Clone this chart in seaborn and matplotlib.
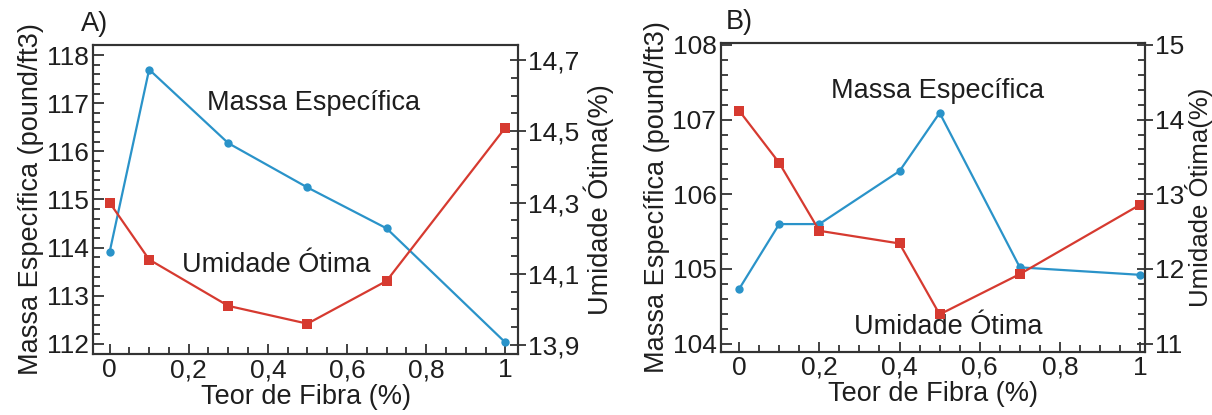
import numpy as np
import pandas as pd
import matplotlib
matplotlib.use("Agg")
import matplotlib.pyplot as plt
from matplotlib.ticker import MultipleLocator
import seaborn as sns

# ---- data ----
fibra_a = [0.0, 0.1, 0.3, 0.5, 0.7, 1.0]
massa_a = [113.9, 117.7, 116.17, 115.25, 114.4, 112.03]
umidade_a = [14.30, 14.14, 14.01, 13.96, 14.08, 14.51]

fibra_b = [0.0, 0.1, 0.2, 0.4, 0.5, 0.7, 1.0]
massa_b = [104.73, 105.6, 105.6, 106.31, 107.09, 105.02, 104.92]
umidade_b = [14.12, 13.42, 12.51, 12.34, 11.39, 11.93, 12.86]

x_ticks = [0, 0.2, 0.4, 0.6, 0.8, 1.0]
x_tick_labels = ["0", "0,2", "0,4", "0,6", "0,8", "1"]
left_ticks_a = [112, 113, 114, 115, 116, 117, 118]
right_ticks_a = [13.9, 14.1, 14.3, 14.5, 14.7]
right_labels_a = ["13,9", "14,1", "14,3", "14,5", "14,7"]
left_ticks_b = [104, 105, 106, 107, 108]
right_ticks_b = [11, 12, 13, 14, 15]

xlabel = "Teor de Fibra (%)"
ylabel_left = "Massa Específica (pound/ft3)"
ylabel_right = "Umidade Ótima(%)"
label_massa = "Massa Específica"
label_umidade = "Umidade Ótima"

BLUE = "#2a93c9"
RED = "#d63a30"
DARK = "#333333"
TXT = "#1e1e1e"

sns.set_theme(style="white")
plt.rcParams["font.family"] = ["Liberation Sans", "DejaVu Sans"]
plt.rcParams["axes.edgecolor"] = DARK
plt.rcParams["axes.linewidth"] = 1.5

fig = plt.figure(figsize=(12.12, 4.15), dpi=100)
ax_a = fig.add_axes([0.077, 0.147, 0.3507, 0.7446])
ax_b = fig.add_axes([0.5946, 0.1525, 0.3501, 0.7446])

TICK_FS = 19
LABEL_FS = 19.5


def style_axes(ax, ax2, left_ticks, right_ticks, right_labels, left_minor, right_minor,
               rpad, rfs):
    ax.set_xticks(x_ticks)
    ax.set_xticklabels(x_tick_labels)
    ax.xaxis.set_minor_locator(MultipleLocator(0.05))
    ax.set_yticks(left_ticks)
    ax.set_yticklabels([str(t) for t in left_ticks])
    ax.yaxis.set_minor_locator(MultipleLocator(left_minor))
    ax.tick_params(axis="both", which="both", direction="in", colors=DARK,
                   labelcolor=TXT, labelsize=TICK_FS, pad=3)
    ax.tick_params(axis="x", which="major", length=7, width=1.3, top=False, bottom=True)
    ax.tick_params(axis="x", which="minor", length=5, width=1.3, top=False, bottom=True)
    ax.tick_params(axis="y", which="major", length=8, width=1.3, left=True)
    ax.tick_params(axis="y", which="minor", length=5, width=1.3, left=True)
    ax.set_xlabel(xlabel, fontsize=LABEL_FS, color=TXT, labelpad=1)
    ax.set_ylabel(ylabel_left, fontsize=LABEL_FS, color=TXT, labelpad=2)

    ax2.set_yticks(right_ticks)
    ax2.set_yticklabels(right_labels)
    ax2.yaxis.set_minor_locator(MultipleLocator(right_minor))
    ax2.tick_params(axis="y", which="major", direction="inout", length=12, width=1.3,
                    colors=DARK, labelcolor=TXT, labelsize=TICK_FS, pad=1)
    ax2.tick_params(axis="y", which="minor", direction="in", length=5, width=1.3, colors=DARK)
    ax2.set_ylabel(ylabel_right, fontsize=rfs, color=TXT, labelpad=rpad)
    for sp in list(ax.spines.values()) + list(ax2.spines.values()):
        sp.set_color(DARK)
        sp.set_linewidth(1.5)


# ---- Panel A ----
df_a = pd.DataFrame({"fibra": fibra_a, "massa": massa_a, "umidade": umidade_a})
sns.lineplot(data=df_a, x="fibra", y="massa", ax=ax_a, color=BLUE, marker="o",
             markersize=6, markeredgewidth=0, linewidth=1.6)
ax2_a = ax_a.twinx()
sns.lineplot(data=df_a, x="fibra", y="umidade", ax=ax2_a, color=RED, marker="s",
             markersize=6.5, markeredgewidth=0, linewidth=1.6)
ax_a.set_xlim(-0.041, 1.033)
ax_a.set_ylim(111.79, 118.21)
ax2_a.set_ylim(13.875, 14.742)
style_axes(ax_a, ax2_a, left_ticks_a, right_ticks_a, right_labels_a, 0.2, 0.05, 3, LABEL_FS)
ax_a.text(0.516, 117.0, label_massa, fontsize=LABEL_FS, color=TXT,
          ha="center", va="center")
ax_a.text(0.42, 113.64, label_umidade, fontsize=LABEL_FS, color=TXT,
          ha="center", va="center")
ax_a.text(-0.03, 1.025, "A)", transform=ax_a.transAxes, fontsize=LABEL_FS,
          color=TXT, ha="left", va="bottom")

# ---- Panel B ----
df_b = pd.DataFrame({"fibra": fibra_b, "massa": massa_b, "umidade": umidade_b})
sns.lineplot(data=df_b, x="fibra", y="massa", ax=ax_b, color=BLUE, marker="o",
             markersize=6, markeredgewidth=0, linewidth=1.6)
ax2_b = ax_b.twinx()
sns.lineplot(data=df_b, x="fibra", y="umidade", ax=ax2_b, color=RED, marker="s",
             markersize=6.5, markeredgewidth=0, linewidth=1.6)
ax_b.set_xlim(-0.046, 1.012)
ax_b.set_ylim(103.89, 108.03)
ax2_b.set_ylim(10.89, 15.03)
style_axes(ax_b, ax2_b, left_ticks_b, right_ticks_b, [str(t) for t in right_ticks_b],
           0.2, 0.2, 0.5, 18.5)
ax_b.text(0.494, 107.38, label_massa, fontsize=LABEL_FS, color=TXT,
          ha="center", va="center")
ax_b.text(0.521, 104.22, label_umidade, fontsize=LABEL_FS, color=TXT,
          ha="center", va="center")
ax_b.text(0.013, 1.025, "B)", transform=ax_b.transAxes, fontsize=LABEL_FS,
          color=TXT, ha="left", va="bottom")

fig.savefig("out.png", dpi=100)
